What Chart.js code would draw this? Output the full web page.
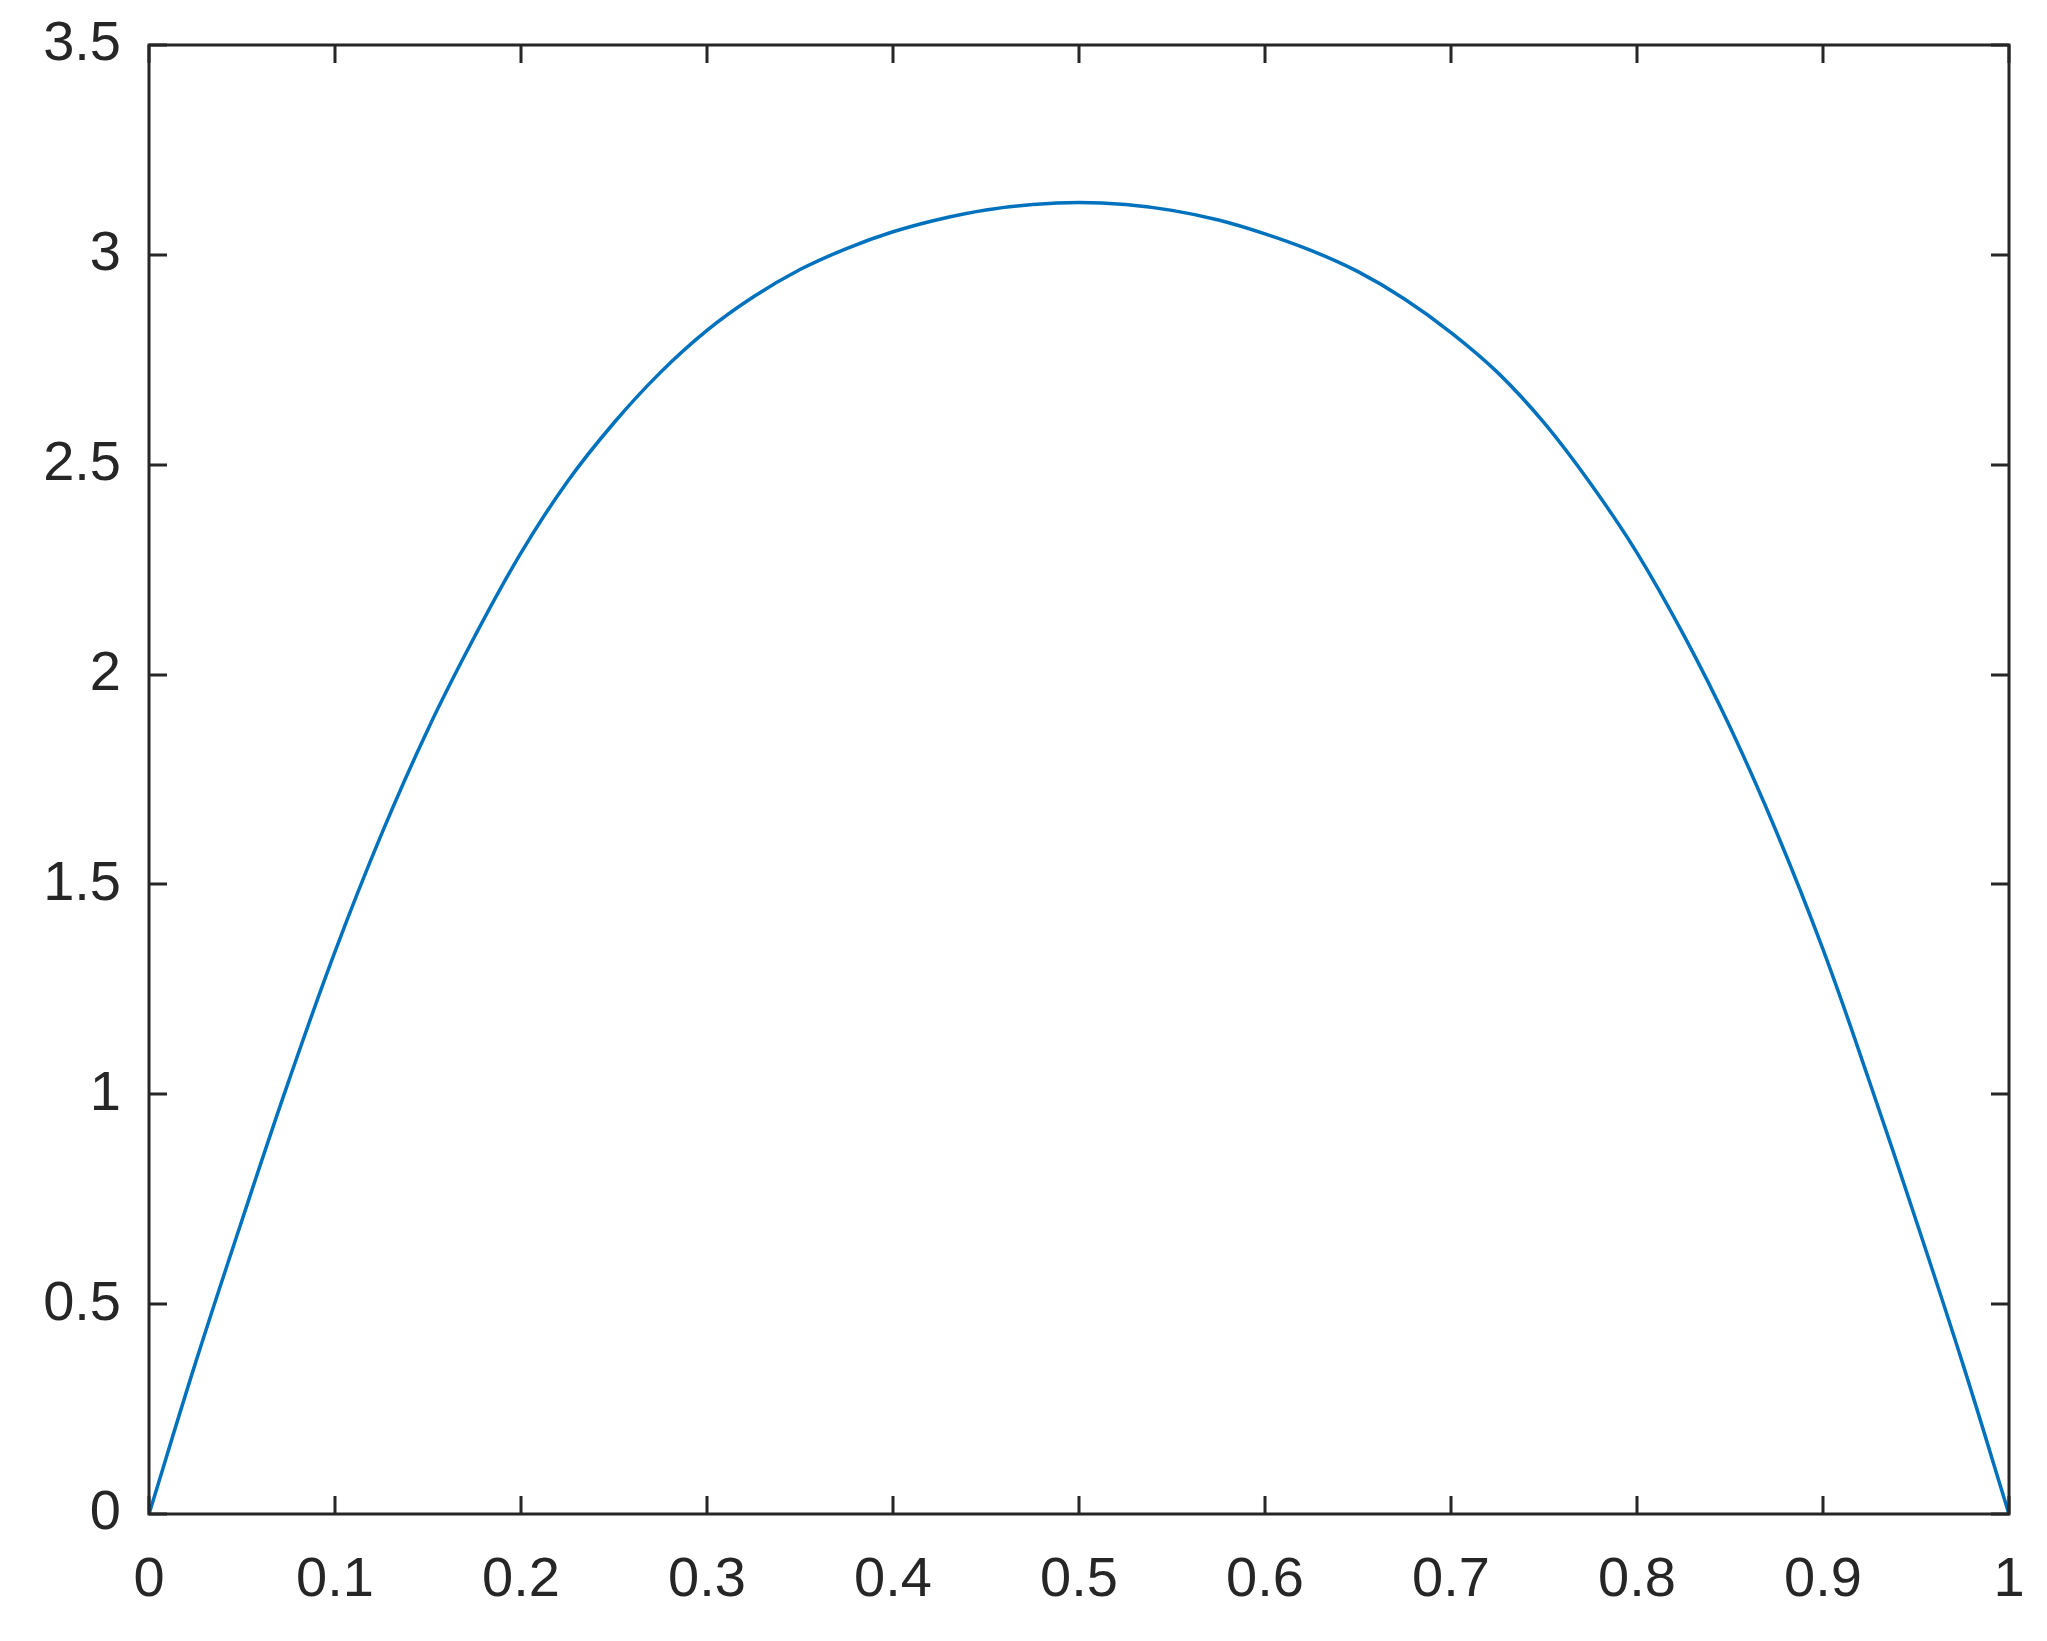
<!DOCTYPE html>
<html>
<head>
<meta charset="utf-8">
<script src="https://cdn.jsdelivr.net/npm/chart.js@4/dist/chart.umd.min.js"></script>
<style>
  html, body { margin: 0; padding: 0; background: #fff; }
  #wrap { width: 2047px; height: 1641px; }
</style>
</head>
<body>
<div id="wrap"><canvas id="curveChart" width="2047" height="1641"></canvas></div>
<script>
// values
const xValues = [0, 0.025, 0.05, 0.075, 0.1, 0.125, 0.15, 0.175, 0.2, 0.225, 0.25, 0.275, 0.3, 0.325, 0.35, 0.375, 0.4, 0.425, 0.45, 0.475, 0.5,
    0.525, 0.55, 0.575, 0.6, 0.625, 0.65, 0.675, 0.7, 0.725, 0.75, 0.775, 0.8, 0.825, 0.85, 0.875, 0.9, 0.925, 0.95, 0.975, 1];
const yValues = [0, 0.36, 0.70, 1.03, 1.34, 1.62, 1.87, 2.09, 2.29, 2.46, 2.60, 2.72, 2.82, 2.90, 2.965, 3.015, 3.055, 3.085, 3.107, 3.12, 3.125,
    3.12, 3.106, 3.083, 3.05, 3.01, 2.96, 2.895, 2.815, 2.72, 2.60, 2.455, 2.29, 2.095, 1.875, 1.625, 1.345, 1.03, 0.70, 0.36, 0];
const xTicks = [0, 0.1, 0.2, 0.3, 0.4, 0.5, 0.6, 0.7, 0.8, 0.9, 1];
const yTicks = [0, 0.5, 1, 1.5, 2, 2.5, 3, 3.5];

const axisColor = '#262626';
const lineColor = '#0072BD';

// MATLAB-like box with inward ticks on all four sides
const boxPlugin = {
    id: 'boxTicks',
    afterDatasetsDraw(chart) {
        const { ctx, chartArea: a, scales } = chart;
        const len = 18;
        ctx.save();
        ctx.strokeStyle = axisColor;
        ctx.lineWidth = 3;
        ctx.beginPath();
        xTicks.forEach(v => {
            const px = Math.round(scales.x.getPixelForValue(v));
            ctx.moveTo(px, a.bottom); ctx.lineTo(px, a.bottom - len);
            ctx.moveTo(px, a.top); ctx.lineTo(px, a.top + len);
        });
        yTicks.forEach(v => {
            const py = Math.round(scales.y.getPixelForValue(v));
            ctx.moveTo(a.left, py); ctx.lineTo(a.left + len, py);
            ctx.moveTo(a.right, py); ctx.lineTo(a.right - len, py);
        });
        ctx.stroke();
        ctx.lineJoin = 'miter';
        ctx.strokeRect(a.left, a.top, a.right - a.left, a.bottom - a.top);
        ctx.restore();
    }
};

// keep the label overhang from pushing the plot area around
function noPadding(s) {
    s.paddingTop = 0; s.paddingBottom = 0; s.paddingLeft = 0; s.paddingRight = 0;
}

const points = xValues.map((x, i) => ({ x, y: yValues[i] }));
const tickFont = { family: '"Liberation Sans", Arial, sans-serif', size: 56 };

new Chart(document.getElementById('curveChart').getContext('2d'), {
    type: 'line',
    data: {
        datasets: [{
            data: points,
            borderColor: lineColor,
            borderWidth: 3.5,
            pointRadius: 0,
            fill: false,
            tension: 0.4
        }]
    },
    options: {
        responsive: false,
        animation: false,
        layout: { autoPadding: false, padding: { top: 45, right: 38, left: 0, bottom: 0 } },
        plugins: { legend: { display: false }, tooltip: { enabled: false } },
        scales: {
            x: {
                type: 'linear', min: 0, max: 1,
                grid: { display: false, drawTicks: false },
                border: { display: false },
                afterBuildTicks: s => { s.ticks = xTicks.map(v => ({ value: v })); },
                afterFit: s => { s.height = 127; noPadding(s); },
                ticks: { color: axisColor, padding: 33, maxRotation: 0, autoSkip: false,
                    callback: v => String(v), font: tickFont }
            },
            y: {
                type: 'linear', min: 0, max: 3.5,
                grid: { display: false, drawTicks: false },
                border: { display: false },
                afterBuildTicks: s => { s.ticks = yTicks.map(v => ({ value: v })); },
                afterFit: s => { s.width = 149; noPadding(s); },
                ticks: { color: axisColor, padding: 28, autoSkip: false,
                    callback: v => String(v), font: tickFont }
            }
        }
    },
    plugins: [boxPlugin]
});
</script>
</body>
</html>
